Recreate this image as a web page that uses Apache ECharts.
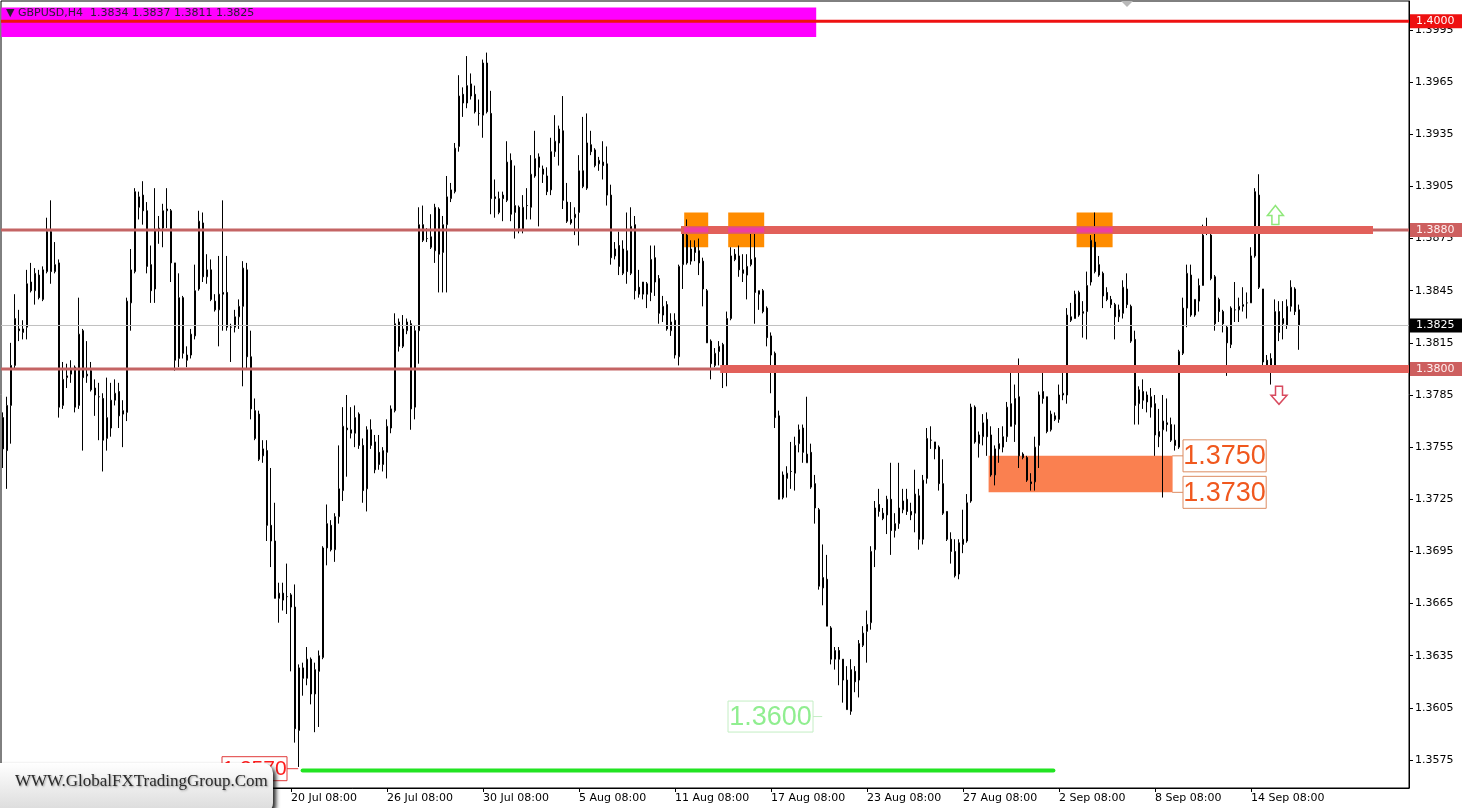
<!DOCTYPE html>
<html><head><meta charset="utf-8">
<script src="https://cdn.jsdelivr.net/npm/echarts@6/dist/echarts.min.js"></script>
<style>html,body{margin:0;padding:0;background:#fff}#c{width:1462px;height:808px}</style>
</head><body><div id="c"></div>
<script>
// ---------- DATA (GBPUSD H4) ----------
const symbolName = 'GBPUSD,H4';
const firstBarUTC = [2021, 6, 2, 8]; // Fri 2 Jul 2021 08:00, H4 bars Mon-Fri
const opens = [
1.3772,1.3753,1.3779,1.3802,1.3823,1.3821,1.3824,1.3850,1.3845,1.3854,
1.3840,1.3856,1.3879,1.3856,1.3861,1.3779,1.3795,1.3797,1.3801,1.3779,
1.3822,1.3796,1.3799,1.3789,1.3784,1.3783,1.3760,1.3766,1.3782,1.3787,
1.3774,1.3775,1.3838,1.3856,1.3893,1.3900,1.3891,1.3860,1.3846,1.3881,
1.3881,1.3891,1.3891,1.3861,1.3806,1.3841,1.3808,1.3808,1.3819,1.3846,
1.3884,1.3853,1.3857,1.3839,1.3834,1.3844,1.3844,1.3824,1.3824,1.3830,
1.3836,1.3857,1.3807,1.3776,1.3774,1.3750,1.3753,1.3710,1.3701,1.3668,
1.3671,1.3669,1.3670,1.3663,1.3592,1.3628,1.3622,1.3633,1.3613,1.3626,
1.3634,1.3697,1.3710,1.3696,1.3715,1.3730,1.3766,1.3763,1.3763,1.3774,
1.3756,1.3731,1.3765,1.3758,1.3752,1.3745,1.3752,1.3766,1.3776,1.3827,
1.3813,1.3822,1.3826,1.3778,1.3822,1.3883,1.3875,1.3876,1.3868,1.3892,
1.3867,1.3883,1.3898,1.3902,1.3928,1.3958,1.3953,1.3964,1.3958,1.3947,
1.3946,1.3976,1.3947,1.3899,1.3890,1.3900,1.3897,1.3920,1.3890,1.3893,
1.3880,1.3894,1.3893,1.3911,1.3922,1.3915,1.3911,1.3903,1.3925,1.3930,
1.3937,1.3896,1.3884,1.3887,1.3890,1.3914,1.3904,1.3929,1.3926,1.3918,
1.3919,1.3918,1.3900,1.3865,1.3871,1.3855,1.3868,1.3855,1.3883,1.3847,
1.3843,1.3849,1.3844,1.3864,1.3852,1.3831,1.3837,1.3822,1.3828,1.3807,
1.3860,1.3877,1.3862,1.3870,1.3868,1.3862,1.3845,1.3816,1.3802,1.3810,
1.3814,1.3799,1.3829,1.3866,1.3865,1.3857,1.3854,1.3860,1.3864,1.3845,
1.3845,1.3835,1.3819,1.3809,1.3773,1.3726,1.3737,1.3741,1.3740,1.3757,
1.3766,1.3746,1.3752,1.3734,1.3719,1.3674,1.3679,1.3651,1.3633,1.3638,
1.3633,1.3621,1.3603,1.3626,1.3621,1.3641,1.3649,1.3654,1.3696,1.3722,
1.3717,1.3716,1.3725,1.3707,1.3711,1.3719,1.3725,1.3718,1.3717,1.3727,
1.3702,1.3737,1.3759,1.3758,1.3755,1.3734,1.3718,1.3702,1.3695,1.3682,
1.3699,1.3701,1.3724,1.3778,1.3757,1.3761,1.3771,1.3762,1.3739,1.3754,
1.3755,1.3761,1.3780,1.3768,1.3784,1.3751,1.3749,1.3735,1.3735,1.3756,
1.3787,1.3784,1.3765,1.3773,1.3771,1.3785,1.3785,1.3830,1.3829,1.3844,
1.3832,1.3833,1.3850,1.3873,1.3860,1.3855,1.3844,1.3840,1.3837,1.3830,
1.3832,1.3846,1.3836,1.3817,1.3780,1.3787,1.3781,1.3784,1.3780,1.3761,
1.3765,1.3769,1.3768,1.3759,1.3755,1.3809,1.3835,1.3854,1.3831,1.3839,
1.3848,1.3878,1.3877,1.3853,1.3840,1.3833,1.3824,1.3814,1.3834,1.3834,
1.3836,1.3838,1.3838,1.3865,1.3900,1.3846,1.3805,1.3801,1.3801,1.3833,
1.3826,1.3825,1.3836,1.3846,1.3834];
const highs = [
1.3775,1.3784,1.3815,1.3843,1.3834,1.3828,1.3857,1.3861,1.3858,1.3857,
1.3859,1.3887,1.3897,1.3873,1.3863,1.3804,1.3803,1.3805,1.3802,1.3841,
1.3823,1.3816,1.3804,1.3794,1.3792,1.3786,1.3795,1.3792,1.3794,1.3792,
1.3782,1.3841,1.3869,1.3904,1.3902,1.3908,1.3896,1.3871,1.3904,1.3888,
1.3895,1.3904,1.3892,1.3861,1.3855,1.3842,1.3813,1.3823,1.3860,1.3891,
1.3890,1.3866,1.3863,1.3843,1.3865,1.3897,1.3865,1.3826,1.3834,1.3840,
1.3862,1.3861,1.3822,1.3783,1.3776,1.3759,1.3759,1.3743,1.3723,1.3677,
1.3677,1.3688,1.3671,1.3676,1.3630,1.3631,1.3640,1.3634,1.3631,1.3638,
1.3698,1.3722,1.3713,1.3717,1.3756,1.3778,1.3785,1.3778,1.3779,1.3775,
1.3760,1.3767,1.3771,1.3762,1.3762,1.3755,1.3771,1.3779,1.3832,1.3829,
1.3831,1.3829,1.3828,1.3825,1.3893,1.3894,1.3881,1.3889,1.3895,1.3893,
1.3888,1.3911,1.3907,1.3930,1.3969,1.3962,1.3980,1.3970,1.3963,1.3955,
1.3978,1.3982,1.3960,1.3909,1.3902,1.3902,1.3931,1.3924,1.3917,1.3894,
1.3900,1.3904,1.3923,1.3937,1.3924,1.3917,1.3916,1.3933,1.3946,1.3940,
1.3957,1.3907,1.3896,1.3893,1.3923,1.3945,1.3947,1.3937,1.3927,1.3922,
1.3931,1.3928,1.3906,1.3873,1.3879,1.3874,1.3890,1.3893,1.3888,1.3857,
1.3850,1.3850,1.3871,1.3871,1.3854,1.3842,1.3839,1.3832,1.3832,1.3860,
1.3880,1.3886,1.3874,1.3874,1.3875,1.3864,1.3846,1.3817,1.3812,1.3816,
1.3815,1.3833,1.3870,1.3869,1.3871,1.3866,1.3866,1.3878,1.3878,1.3845,
1.3846,1.3836,1.3821,1.3810,1.3776,1.3741,1.3744,1.3758,1.3761,1.3768,
1.3768,1.3784,1.3757,1.3739,1.3720,1.3699,1.3693,1.3652,1.3640,1.3640,
1.3633,1.3629,1.3633,1.3629,1.3644,1.3652,1.3661,1.3698,1.3724,1.3731,
1.3720,1.3727,1.3746,1.3717,1.3746,1.3731,1.3731,1.3723,1.3742,1.3731,
1.3739,1.3766,1.3767,1.3758,1.3756,1.3748,1.3718,1.3706,1.3702,1.3702,
1.3719,1.3728,1.3780,1.3779,1.3764,1.3774,1.3775,1.3767,1.3756,1.3766,
1.3767,1.3781,1.3799,1.3791,1.3806,1.3752,1.3750,1.3740,1.3761,1.3787,
1.3798,1.3784,1.3776,1.3775,1.3791,1.3799,1.3835,1.3838,1.3845,1.3845,
1.3839,1.3856,1.3877,1.3890,1.3865,1.3856,1.3847,1.3842,1.3838,1.3837,
1.3851,1.3855,1.3837,1.3822,1.3790,1.3794,1.3787,1.3789,1.3785,1.3777,
1.3785,1.3783,1.3772,1.3768,1.3811,1.3841,1.3860,1.3860,1.3840,1.3852,
1.3883,1.3887,1.3878,1.3854,1.3841,1.3834,1.3825,1.3836,1.3850,1.3841,
1.3847,1.3844,1.3870,1.3904,1.3912,1.3846,1.3808,1.3809,1.3840,1.3839,
1.3839,1.3840,1.3851,1.3847,1.3837];
const lows = [
1.3743,1.3731,1.3757,1.3800,1.3816,1.3817,1.3817,1.3844,1.3837,1.3840,
1.3839,1.3855,1.3849,1.3855,1.3772,1.3777,1.3789,1.3792,1.3775,1.3777,
1.3753,1.3792,1.3787,1.3773,1.3759,1.3741,1.3753,1.3761,1.3779,1.3766,
1.3755,1.3770,1.3822,1.3855,1.3886,1.3883,1.3855,1.3838,1.3838,1.3872,
1.3870,1.3881,1.3850,1.3799,1.3801,1.3806,1.3801,1.3806,1.3817,1.3845,
1.3850,1.3849,1.3839,1.3833,1.3813,1.3822,1.3822,1.3804,1.3821,1.3823,
1.3790,1.3800,1.3771,1.3759,1.3747,1.3746,1.3701,1.3686,1.3668,1.3654,
1.3661,1.3659,1.3626,1.3585,1.3571,1.3612,1.3618,1.3607,1.3591,1.3594,
1.3633,1.3687,1.3695,1.3689,1.3711,1.3724,1.3738,1.3760,1.3755,1.3754,
1.3723,1.3718,1.3754,1.3740,1.3742,1.3741,1.3737,1.3763,1.3775,1.3810,
1.3812,1.3820,1.3765,1.3771,1.3803,1.3873,1.3873,1.3869,1.3861,1.3844,
1.3844,1.3844,1.3896,1.3901,1.3925,1.3945,1.3950,1.3955,1.3947,1.3940,
1.3933,1.3947,1.3889,1.3887,1.3889,1.3885,1.3896,1.3885,1.3875,1.3878,
1.3878,1.3886,1.3886,1.3910,1.3882,1.3907,1.3900,1.3900,1.3922,1.3917,
1.3892,1.3884,1.3883,1.3877,1.3871,1.3904,1.3903,1.3923,1.3916,1.3914,
1.3909,1.3894,1.3860,1.3863,1.3854,1.3854,1.3849,1.3854,1.3840,1.3841,
1.3840,1.3835,1.3839,1.3842,1.3826,1.3827,1.3822,1.3819,1.3806,1.3802,
1.3846,1.3860,1.3860,1.3862,1.3854,1.3836,1.3815,1.3794,1.3801,1.3802,
1.3789,1.3790,1.3828,1.3862,1.3853,1.3850,1.3840,1.3859,1.3826,1.3834,
1.3832,1.3813,1.3786,1.3766,1.3725,1.3725,1.3726,1.3731,1.3730,1.3752,
1.3746,1.3746,1.3731,1.3711,1.3673,1.3664,1.3652,1.3630,1.3627,1.3618,
1.3608,1.3604,1.3601,1.3614,1.3611,1.3640,1.3631,1.3650,1.3686,1.3715,
1.3713,1.3705,1.3693,1.3703,1.3708,1.3717,1.3716,1.3713,1.3706,1.3696,
1.3699,1.3734,1.3754,1.3748,1.3730,1.3716,1.3701,1.3688,1.3680,1.3679,
1.3694,1.3700,1.3723,1.3757,1.3749,1.3756,1.3750,1.3738,1.3733,1.3746,
1.3752,1.3758,1.3767,1.3758,1.3743,1.3748,1.3735,1.3730,1.3730,1.3743,
1.3780,1.3763,1.3764,1.3770,1.3769,1.3782,1.3780,1.3827,1.3829,1.3830,
1.3818,1.3817,1.3848,1.3855,1.3853,1.3835,1.3839,1.3835,1.3817,1.3827,
1.3829,1.3835,1.3815,1.3768,1.3768,1.3777,1.3775,1.3772,1.3750,1.3755,
1.3726,1.3764,1.3758,1.3753,1.3754,1.3808,1.3824,1.3830,1.3830,1.3833,
1.3848,1.3877,1.3851,1.3822,1.3827,1.3821,1.3796,1.3812,1.3827,1.3827,
1.3833,1.3829,1.3838,1.3864,1.3846,1.3802,1.3798,1.3791,1.3800,1.3816,
1.3817,1.3823,1.3833,1.3831,1.3811];
const closes = [
1.3754,1.3779,1.3802,1.3829,1.3822,1.3823,1.3849,1.3845,1.3855,1.3841,
1.3857,1.3879,1.3856,1.3860,1.3778,1.3794,1.3796,1.3800,1.3778,1.3820,
1.3795,1.3797,1.3788,1.3785,1.3784,1.3759,1.3772,1.3782,1.3786,1.3773,
1.3776,1.3839,1.3857,1.3902,1.3899,1.3891,1.3859,1.3845,1.3880,1.3880,
1.3891,1.3892,1.3861,1.3805,1.3841,1.3809,1.3805,1.3820,1.3845,1.3885,
1.3853,1.3857,1.3840,1.3834,1.3843,1.3843,1.3824,1.3824,1.3830,1.3836,
1.3858,1.3807,1.3777,1.3760,1.3748,1.3754,1.3710,1.3701,1.3668,1.3671,
1.3667,1.3669,1.3663,1.3593,1.3628,1.3622,1.3633,1.3613,1.3627,1.3635,
1.3697,1.3711,1.3696,1.3715,1.3731,1.3767,1.3765,1.3765,1.3772,1.3756,
1.3730,1.3765,1.3756,1.3742,1.3745,1.3753,1.3767,1.3777,1.3826,1.3813,
1.3823,1.3827,1.3777,1.3822,1.3883,1.3874,1.3875,1.3870,1.3893,1.3866,
1.3883,1.3899,1.3903,1.3927,1.3957,1.3953,1.3963,1.3957,1.3948,1.3947,
1.3976,1.3948,1.3898,1.3898,1.3898,1.3898,1.3919,1.3889,1.3894,1.3881,
1.3893,1.3894,1.3912,1.3921,1.3916,1.3912,1.3902,1.3925,1.3931,1.3938,
1.3897,1.3885,1.3886,1.3889,1.3914,1.3905,1.3930,1.3925,1.3917,1.3920,
1.3917,1.3900,1.3864,1.3869,1.3859,1.3869,1.3856,1.3882,1.3845,1.3843,
1.3850,1.3843,1.3863,1.3850,1.3832,1.3836,1.3823,1.3827,1.3808,1.3859,
1.3878,1.3861,1.3869,1.3867,1.3861,1.3846,1.3815,1.3803,1.3809,1.3813,
1.3799,1.3829,1.3865,1.3863,1.3857,1.3855,1.3859,1.3863,1.3844,1.3843,
1.3833,1.3818,1.3808,1.3772,1.3725,1.3739,1.3740,1.3741,1.3756,1.3765,
1.3752,1.3751,1.3732,1.3720,1.3675,1.3680,1.3652,1.3633,1.3638,1.3633,
1.3621,1.3604,1.3627,1.3620,1.3642,1.3648,1.3653,1.3695,1.3720,1.3718,
1.3714,1.3725,1.3707,1.3711,1.3720,1.3724,1.3718,1.3716,1.3728,1.3702,
1.3736,1.3760,1.3759,1.3754,1.3734,1.3717,1.3702,1.3695,1.3681,1.3700,
1.3702,1.3723,1.3778,1.3758,1.3762,1.3769,1.3761,1.3739,1.3754,1.3757,
1.3761,1.3778,1.3767,1.3783,1.3750,1.3749,1.3736,1.3734,1.3755,1.3785,
1.3783,1.3764,1.3774,1.3771,1.3785,1.3786,1.3831,1.3828,1.3843,1.3831,
1.3833,1.3848,1.3874,1.3856,1.3854,1.3842,1.3840,1.3837,1.3830,1.3834,
1.3847,1.3837,1.3816,1.3779,1.3788,1.3782,1.3785,1.3778,1.3762,1.3764,
1.3770,1.3768,1.3759,1.3756,1.3810,1.3835,1.3855,1.3831,1.3840,1.3848,
1.3877,1.3878,1.3852,1.3826,1.3833,1.3826,1.3815,1.3835,1.3834,1.3836,
1.3837,1.3838,1.3865,1.3902,1.3847,1.3804,1.3801,1.3806,1.3833,1.3821,
1.3829,1.3836,1.3847,1.3833,1.3825];
const slotCount = 352; // bars shown incl. right-hand empty shift area
const timeTickLabels = ['20 Jul 08:00','26 Jul 08:00','30 Jul 08:00','5 Aug 08:00','11 Aug 08:00',
  '17 Aug 08:00','23 Aug 08:00','27 Aug 08:00','2 Sep 08:00','8 Sep 08:00','14 Sep 08:00'];
const priceTicks = [1.3575,1.3605,1.3635,1.3665,1.3695,1.3725,1.3755,1.3785,1.3815,1.3845,1.3875,1.3905,1.3935,1.3965,1.3995];
const priceMin = 1.355889, priceMax = 1.4011685;
// levels and drawn objects (bar index / price)
const roundLevel = 1.4000;
const resistanceLevel = 1.3880;
const supportLevel = 1.3800;
const bidLevel = closes[closes.length - 1];
const lowLevel = 1.3569;
const resistanceBand = [169.5, 342.5];
const supportBand = [179.3, 351.5];
const lowLine = [74.9, 262.6];
const topZone = {from: -0.4, to: 203.3, low: 1.3991, high: 1.4008};
const touchZones = [[170.3, 176.3], [181.3, 190.3], [268.4, 277.4]];
const touchZonePrice = [1.3870, 1.3890];
const supportZone = {from: 246.4, to: 292.4, low: 1.3729, high: 1.3750};
const priceNotes = [
  {text: '1.3570', price: 1.3570, from: 54.75, to: 71.0, lead: [71.0, 73.8], kind: 'red'},
  {text: '1.3600', price: 1.3600, from: 181.25, to: 202.5, lead: [202.5, 204.8], kind: 'green'},
  {text: '1.3750', price: 1.3750, from: 295.0, to: 315.8, lead: [292.3, 295.0], kind: 'orange'},
  {text: '1.3730', price: 1.3729, from: 295.0, to: 315.8, lead: [292.3, 295.0], kind: 'orange'}
];
const arrows = [{i: 318.1, price: 1.3894, dir: 'up'}, {i: 319.0, price: 1.3790, dir: 'down'}];

// ---------- BUILD ----------
const months = ['Jan','Feb','Mar','Apr','May','Jun','Jul','Aug','Sep','Oct','Nov','Dec'];
const cats = [];
let t = Date.UTC(firstBarUTC[0], firstBarUTC[1], firstBarUTC[2], firstBarUTC[3]);
while (cats.length < slotCount) {
  const d = new Date(t);
  const wd = d.getUTCDay();
  if (wd !== 0 && wd !== 6) cats.push(d.getUTCDate() + ' ' + months[d.getUTCMonth()] + ' ' + String(d.getUTCHours()).padStart(2, '0') + ':00');
  t += 4 * 3600e3;
}
const tickSet = new Set();
cats.forEach((c, i) => { if (timeTickLabels.includes(c)) tickSet.add(i); });
const candles = opens.map((o, i) => [o, closes[i], lows[i], highs[i]]);

const FONT = '"DejaVu Sans", Verdana, sans-serif';
const chart = echarts.init(document.getElementById('c'), null, {renderer: 'canvas', width: 1462, height: 808});
chart.setOption({
  animation: false,
  backgroundColor: '#ffffff',
  grid: {left: 1, right: 53, top: 1, bottom: 20, show: true, borderColor: '#000', borderWidth: 1, backgroundColor: 'transparent'},
  xAxis: {
    type: 'category', data: cats, boundaryGap: true,
    axisLine: {show: true, lineStyle: {color: '#000', width: 1}},
    axisTick: {show: true, alignWithLabel: true, length: 4, interval: (i) => tickSet.has(i), lineStyle: {color: '#000'}},
    axisLabel: {interval: (i) => tickSet.has(i), align: 'left', margin: 5, fontFamily: FONT, fontSize: 11, color: '#000'},
    splitLine: {show: false}
  },
  yAxis: {
    type: 'value', position: 'right', min: priceMin, max: priceMax, scale: true,
    axisLine: {show: true, lineStyle: {color: '#000'}},
    axisTick: {show: true, length: 4, customValues: priceTicks, lineStyle: {color: '#000'}},
    axisLabel: {customValues: priceTicks, formatter: (v) => Number(v).toFixed(4), margin: 6, fontFamily: FONT, fontSize: 11, color: '#000'},
    splitLine: {show: false}
  },
  series: [{
    type: 'candlestick', data: candles, barWidth: 2, z: 3,
    itemStyle: {color: '#ffffff', color0: '#000000', borderColor: '#000000', borderColor0: '#000000', borderWidth: 1}
  }]
});

const X0 = chart.convertToPixel({xAxisIndex: 0}, 0);
const X1 = chart.convertToPixel({xAxisIndex: 0}, 1);
const band = X1 - X0;
const px = (i) => X0 + i * band;
const py = (p) => chart.convertToPixel({yAxisIndex: 0}, p);
const left = px(-0.5), right = px(slotCount - 0.5);
const g = [];
function rect(x0, x1, y0, y1, style, z) {
  g.push({type: 'rect', silent: true, z: z, shape: {x: Math.min(x0, x1), y: Math.min(y0, y1), width: Math.abs(x1 - x0), height: Math.abs(y1 - y0)}, style: style});
}
function line(x0, y0, x1, y1, stroke, w, z, cap) {
  g.push({type: 'line', silent: true, z: z, shape: {x1: x0, y1: y0, x2: x1, y2: y1}, style: {stroke: stroke, lineWidth: w, lineCap: cap || 'butt'}});
}
function text(x, y, str, font, fill, align, z, extra) {
  g.push({type: 'text', silent: true, z: z, x: x, y: y, style: Object.assign({text: str, font: font, fill: fill, align: align || 'left', verticalAlign: 'middle'}, extra || {})});
}
// zones (behind candles)
rect(px(topZone.from), px(topZone.to), py(topZone.high), py(topZone.low), {fill: '#ff00ff'}, 1);
touchZones.forEach(z => rect(px(z[0]), px(z[1]), py(touchZonePrice[1]), py(touchZonePrice[0]), {fill: '#ff8c00'}, 1));
rect(px(supportZone.from), px(supportZone.to), py(supportZone.high), py(supportZone.low), {fill: '#fa8050'}, 1);
// horizontal levels (over candles)
line(left, py(bidLevel), right, py(bidLevel), '#c0c0c0', 1, 4);
line(left, py(roundLevel), right, py(roundLevel), '#ee1111', 3, 5);
line(left, py(resistanceLevel), right, py(resistanceLevel), '#c46464', 3, 5);
line(left, py(supportLevel), right, py(supportLevel), '#c46464', 3, 5);
line(px(resistanceBand[0]), py(resistanceLevel), px(resistanceBand[1]), py(resistanceLevel), '#e2605a', 8, 6);
line(px(supportBand[0]), py(supportLevel), px(supportBand[1]), py(supportLevel), '#e2605a', 8, 6);
touchZones.forEach(z => line(px(z[0]), py(resistanceLevel), px(z[1]), py(resistanceLevel), '#ee3fa0', 5, 7));
line(px(lowLine[0]), py(lowLevel), px(lowLine[1]), py(lowLevel), '#22e422', 4, 6, 'round');
// price notes
const noteStyle = {
  red: {fill: '#ff1c1c', border: '#e03a3a', size: 21, h: 24},
  green: {fill: '#90ee90', border: '#c4eec4', size: 27, h: 31},
  orange: {fill: '#f0581e', border: '#dc8c62', size: 27, h: 32}
};
priceNotes.forEach(n => {
  const s = noteStyle[n.kind];
  const yc = py(n.price), x0 = px(n.from), x1 = px(n.to);
  rect(x0, x1, yc - s.h / 2, yc + s.h / 2, {fill: 'none', stroke: s.border, lineWidth: 1}, 8);
  line(px(n.lead[0]), yc, px(n.lead[1]), yc, s.border, 1, 8);
  text((x0 + x1) / 2, yc + 1, n.text, s.size + 'px "Liberation Sans", Arial, sans-serif', s.fill, 'center', 9);
});
// arrows
arrows.forEach(a => {
  const cx = px(a.i), top = py(a.price);
  let pts;
  if (a.dir === 'up') {
    pts = [[cx, top], [cx + 8, top + 10], [cx + 3.5, top + 10], [cx + 3.5, top + 19], [cx - 3.5, top + 19], [cx - 3.5, top + 10], [cx - 8, top + 10]];
  } else {
    pts = [[cx - 3.5, top], [cx + 3.5, top], [cx + 3.5, top + 9], [cx + 8, top + 9], [cx, top + 18], [cx - 8, top + 9], [cx - 3.5, top + 9]];
  }
  g.push({type: 'polygon', silent: true, z: 9, shape: {points: pts},
    style: {fill: '#ffffff', stroke: a.dir === 'up' ? '#8fe87a' : '#d84a5e', lineWidth: 1.5}});
});
// right axis price tags
const tags = [
  {p: roundLevel, bg: '#ee1111', fg: '#ffffff'},
  {p: resistanceLevel, bg: '#cd5f5f', fg: '#fff0f0'},
  {p: bidLevel, bg: '#000000', fg: '#ffffff'},
  {p: supportLevel, bg: '#cd5f5f', fg: '#fff0f0'}
];
tags.forEach(tg => {
  const y = py(tg.p);
  rect(right + 1, 1462, y - 7, y + 7, {fill: tg.bg}, 20);
  text(right + 7, y, tg.p.toFixed(4), '11px ' + FONT, tg.fg, 'left', 21);
});
// header
const last = opens.length - 1;
text(6, 13, '\u25BC ' + symbolName + '  ' + [opens[last], highs[last], lows[last], closes[last]].map(v => v.toFixed(4)).join(' '), '11px ' + FONT, '#2a2030', 'left', 21);
// chart-shift marker
g.push({type: 'polygon', silent: true, z: 21, shape: {points: [[1121, 1], [1133, 1], [1127, 7]]}, style: {fill: '#b8b8b8'}});
// watermark badge
g.push({type: 'rect', silent: true, z: 30, shape: {x: -12, y: 763, width: 285, height: 50, r: 10},
  style: {fill: {type: 'linear', x: 0, y: 0, x2: 0, y2: 1, colorStops: [{offset: 0, color: '#ffffff'}, {offset: 1, color: '#dadada'}]},
    shadowBlur: 4, shadowColor: 'rgba(0,0,0,0.85)', shadowOffsetX: 3, shadowOffsetY: 3}});
text(15, 782, 'WWW.GlobalFXTradingGroup.Com', '17px "Liberation Serif", "Times New Roman", serif', '#2b2b2b', 'left', 31,
  {textShadowColor: 'rgba(0,0,0,0.35)', textShadowBlur: 2, textShadowOffsetX: 1, textShadowOffsetY: 1});

chart.setOption({graphic: {elements: g}});
</script>
</body></html>
